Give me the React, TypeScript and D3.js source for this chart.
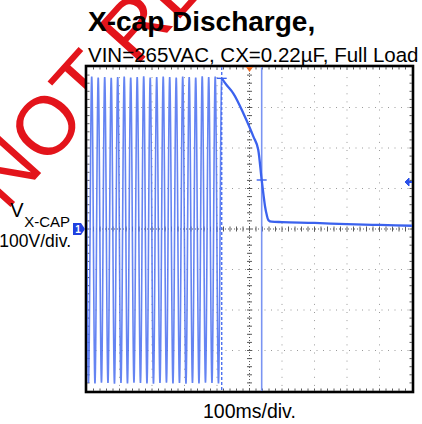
import React from "react";
import * as d3 from "d3";

// ---- text ----
const title = "X-cap Discharge,";
const subtitle = "VIN=265VAC, CX=0.22µF, Full Load";
const yLabelMain = "V";
const yLabelSub = "X-CAP";
const yScaleLabel = "100V/div.";
const xScaleLabel = "100ms/div.";
const watermark = "NOT RECOMMENDED";

// ---- scope settings ----
const timeDomainMs = [0, 1000];
const voltDomain = [-400, 400];
const xDivisions = 10;
const yDivisions = 8;
const minorPerDiv = 5;

// ---- AC input before disconnect (extremes) ----
const acFirstPeakMs = -5.5;
const acHalfPeriodMs = 10;
const acPeaksV = [375, 376, 374, 375, 373, 375, 376, 374, 375, 377, 374, 375, 376, 375, 374, 376, 375, 374, 377, 375, 376, 372];
const acTroughsV = [-380, -381, -379, -380, -382, -380, -381, -379, -380, -381, -382, -380, -379, -381, -380, -382, -380, -381, -379, -380, -381];

// ---- discharge after disconnect ----
const dischargeTimeMs = [414.5, 430, 450, 481, 512, 527, 537.5, 543, 548, 553, 558, 568, 600, 700, 800, 900, 1000];
const dischargeV = [372, 355, 335, 286, 228, 195, 121, 85, 55, 35, 22, 18, 17, 15, 12, 10, 8];

// ---- markers ----
const cursorTimesMs = [414.5, 537.5];
const cursorLevelsV = [372, 121];
const triggerLevelV = 116;
const triggerTimeMs = 500;

const W = 422;
const H = 424;
const L = 87, R = 412, T = 67, B = 391;

export default function App() {
  const x = d3.scaleLinear().domain(timeDomainMs).range([L, R]);
  const y = d3.scaleLinear().domain(voltDomain).range([B, T]);

  // build AC trace from extremes (cosine between successive extremes)
  const extremes: { t: number; v: number }[] = [];
  for (let i = 0; i < acPeaksV.length; i++) {
    extremes.push({ t: acFirstPeakMs + 2 * i * acHalfPeriodMs, v: acPeaksV[i] });
    if (i < acTroughsV.length)
      extremes.push({ t: acFirstPeakMs + (2 * i + 1) * acHalfPeriodMs, v: acTroughsV[i] });
  }
  const acPts: [number, number][] = [];
  for (let k = 0; k < extremes.length - 1; k++) {
    const a = extremes[k], b = extremes[k + 1];
    const mid = (a.v + b.v) / 2, amp = (a.v - b.v) / 2;
    const n = 40;
    for (let j = 0; j < n; j++) {
      const t = a.t + ((b.t - a.t) * j) / n;
      acPts.push([t, mid + amp * Math.cos((Math.PI * j) / n)]);
    }
  }
  const last = extremes[extremes.length - 1];
  acPts.push([last.t, last.v]);

  const line = d3.line<[number, number]>().x((d) => x(d[0])).y((d) => y(d[1]));
  const acPath = line(acPts) || "";
  const disPath =
    d3
      .line<number>()
      .x((_, i) => x(dischargeTimeMs[i]))
      .y((d) => y(d))
      .curve(d3.curveMonotoneX)(dischargeV) || "";

  const dx = (R - L) / xDivisions;
  const dy = (B - T) / yDivisions;
  const cx = x((timeDomainMs[0] + timeDomainMs[1]) / 2);
  const cy = y(0);

  const vGrid = d3.range(1, xDivisions).filter((i) => i !== xDivisions / 2);
  const hGrid = d3.range(1, yDivisions).filter((i) => i !== yDivisions / 2);
  const xMinor = d3.range(1, xDivisions * minorPerDiv);
  const yMinor = d3.range(1, yDivisions * minorPerDiv);

  const font = "'Liberation Sans', Arial, Helvetica, sans-serif";
  const blue = "#3b62ee";

  // watermark placement
  const wmX = 6, wmY = 212, wmRot = -48;

  return (
    <svg width={W} height={H} style={{ position: "absolute", left: 0, top: 0, background: "#fff" }}>
      <defs>
        <clipPath id="plotClip">
          <rect x={L} y={T} width={R - L} height={B - T} />
        </clipPath>
      </defs>
      <rect x={0} y={0} width={W} height={H} fill="#fff" />

      {/* watermark */}
      <text
        transform={`translate(${wmX},${wmY}) rotate(${wmRot})`}
        fontFamily={font}
        fontSize={82}
        fill="#e3141b"
      >
        {watermark}
      </text>

      {/* frame */}
      <rect x={L - 1} y={T - 1} width={R - L + 2} height={B - T + 2} fill="#fff" stroke="#000" strokeWidth={2.6} />

      {/* grid */}
      <g stroke="#9a9a9a" strokeWidth={1}>
        {vGrid.map((i) => (
          <line key={"v" + i} x1={L + i * dx} x2={L + i * dx} y1={T + 2} y2={B - 2} strokeDasharray={`1 ${dy / minorPerDiv - 1}`} />
        ))}
        {hGrid.map((i) => (
          <line key={"h" + i} y1={T + i * dy} y2={T + i * dy} x1={L + 2} x2={R - 2} strokeDasharray={`1 ${dx / minorPerDiv - 1}`} />
        ))}
      </g>
      {/* center axes with minor ticks */}
      <g stroke="#5a5a5a" strokeWidth={1}>
        <line x1={L} x2={R} y1={cy} y2={cy} strokeDasharray="1 2" />
        <line x1={cx} x2={cx} y1={T} y2={B} strokeDasharray="1 2" />
        {xMinor.map((i) => (
          <line key={"xm" + i} x1={L + (i * dx) / minorPerDiv} x2={L + (i * dx) / minorPerDiv} y1={cy - 2.5} y2={cy + 2.5} />
        ))}
        {yMinor.map((i) => (
          <line key={"ym" + i} y1={T + (i * dy) / minorPerDiv} y2={T + (i * dy) / minorPerDiv} x1={cx - 2.5} x2={cx + 2.5} />
        ))}
        {xMinor.map((i) => (
          <g key={"fx" + i}>
            <line x1={L + (i * dx) / minorPerDiv} x2={L + (i * dx) / minorPerDiv} y1={T} y2={T + 2.5} />
            <line x1={L + (i * dx) / minorPerDiv} x2={L + (i * dx) / minorPerDiv} y1={B} y2={B - 2.5} />
          </g>
        ))}
        {yMinor.map((i) => (
          <g key={"fy" + i}>
            <line y1={T + (i * dy) / minorPerDiv} y2={T + (i * dy) / minorPerDiv} x1={L} x2={L + 2.5} />
            <line y1={T + (i * dy) / minorPerDiv} y2={T + (i * dy) / minorPerDiv} x1={R} x2={R - 2.5} />
          </g>
        ))}
      </g>

      {/* cursors */}
      <line x1={x(cursorTimesMs[0])} x2={x(cursorTimesMs[0])} y1={T} y2={B} stroke="#4d72f0" strokeWidth={1.4} strokeDasharray="3 2" />
      <line x1={x(cursorTimesMs[1])} x2={x(cursorTimesMs[1])} y1={T} y2={B} stroke="#7a94f2" strokeWidth={1.6} />

      {/* traces */}
      <g clipPath="url(#plotClip)">
        <path d={acPath} fill="none" stroke="#4a6ef0" strokeWidth={1.6} strokeOpacity={0.85} />
        <path d={disPath} fill="none" stroke={blue} strokeWidth={2.3} />
      </g>

      {/* cursor crosses */}
      {cursorTimesMs.map((t, i) => (
        <line key={"cc" + i} x1={x(t) - 5} x2={x(t) + 5} y1={y(cursorLevelsV[i])} y2={y(cursorLevelsV[i])} stroke={blue} strokeWidth={1.4} />
      ))}

      {/* trigger time marker */}
      <path d={`M${x(triggerTimeMs) - 3.5},${T} L${x(triggerTimeMs) + 3.5},${T} L${x(triggerTimeMs)},${T + 5} Z`} fill="#ef6a1e" />
      {/* trigger level marker */}
      <g fill="#2a50e8" stroke="#2a50e8">
        <path d={`M${R - 7},${y(triggerLevelV)} L${R - 3},${y(triggerLevelV) - 4} L${R - 3},${y(triggerLevelV) + 4} Z`} />
        <line x1={R - 4} x2={R} y1={y(triggerLevelV)} y2={y(triggerLevelV)} strokeWidth={2} />
      </g>
      {/* ground marker */}
      <g>
        <path d={`M73,${cy - 6} L81,${cy - 6} L85,${cy} L81,${cy + 6} L73,${cy + 6} Z`} fill="#2040e0" />
        <text x={78} y={cy + 3.5} textAnchor="middle" fontFamily={font} fontWeight="bold" fontSize={10} fill="#fff">1</text>
      </g>

      {/* texts */}
      <text x={88} y={31} fontFamily={font} fontWeight="bold" fontSize={28} fill="#000">{title}</text>
      <text x={88} y={61.5} fontFamily={font} fontSize={20.5} fill="#000">{subtitle}</text>
      <text x={23.5} y={217} textAnchor="end" fontFamily={font} fontSize={20} fill="#000">{yLabelMain}</text>
      <text x={70} y={227} textAnchor="end" fontFamily={font} fontSize={15} fill="#000">{yLabelSub}</text>
      <text x={71} y={246.5} textAnchor="end" fontFamily={font} fontSize={17.5} fill="#000">{yScaleLabel}</text>
      <text x={203} y={418} fontFamily={font} fontSize={19.5} fill="#000">{xScaleLabel}</text>
    </svg>
  );
}
